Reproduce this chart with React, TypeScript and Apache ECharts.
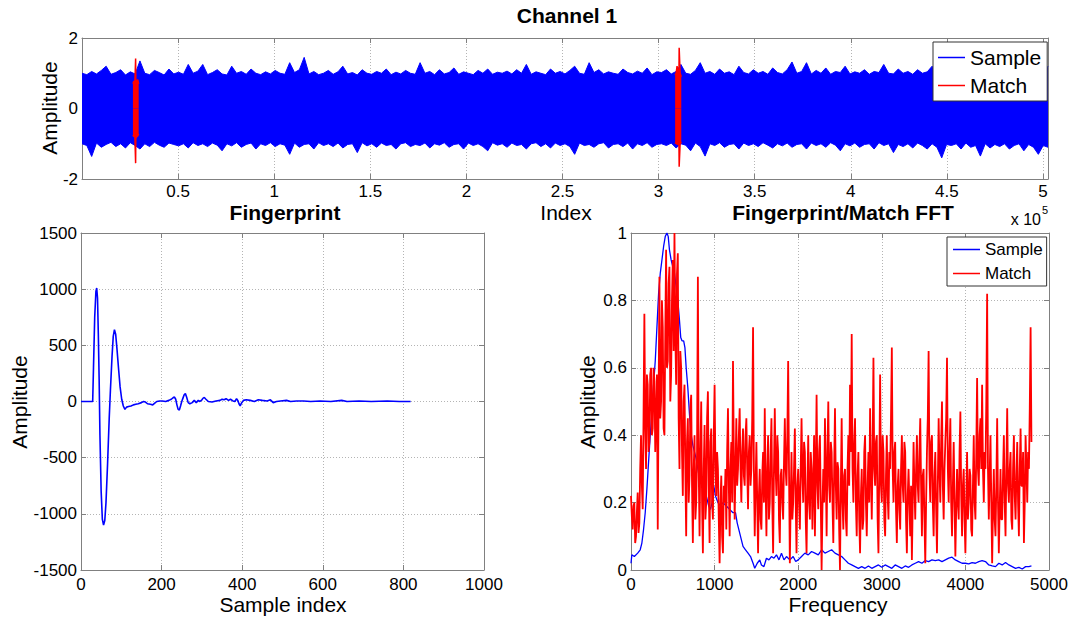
import React, { useEffect, useRef } from 'react';
import * as echarts from 'echarts';

const FONT = '"Liberation Sans", Arial, Helvetica, sans-serif';
const BLUE = '#0000ff';
const RED = '#ff0000';
const AXIS_GRAY = '#808080';
const GRID_GRAY = '#b4b4b4';

// ---------- Top panel: Channel 1 (signal envelope, read at 201 evenly spaced positions) ----------
const TOP_MAX = 502600;
const sampleUpper = [
  1.0, 0.96, 1.05, 0.98, 1.08, 1.2, 0.97, 1.02, 1.1, 0.95,
  1.04, 0.98, 1.35, 1.0, 0.96, 1.08, 1.02, 0.95, 1.12, 0.98,
  1.03, 0.97, 1.25, 1.0, 1.06, 1.25, 0.96, 1.02, 1.1, 0.98,
  0.95, 1.2, 1.0, 1.05, 0.97, 1.12, 1.0, 0.96, 1.04, 0.98,
  1.08, 1.0, 0.97, 1.3, 1.02, 1.1, 1.45, 0.98, 1.05, 0.96,
  1.0, 1.08, 0.97, 1.04, 1.2, 0.98, 1.02, 0.95, 1.1, 1.0,
  0.97, 1.05, 1.0, 1.12, 0.96, 1.03, 0.98, 1.08, 1.0, 0.97,
  1.3, 1.0, 1.05, 0.96, 1.1, 0.98, 1.02, 1.15, 0.97, 1.04,
  1.0, 0.96, 1.08, 1.0, 1.12, 0.97, 1.03, 1.0, 1.06, 0.98,
  1.1, 1.0, 1.25, 0.97, 1.04, 1.0, 0.96, 1.12, 1.0, 1.05,
  0.98, 1.08, 1.2, 1.0, 0.97, 1.3, 1.02, 1.1, 0.98, 1.04,
  1.0, 0.97, 1.12, 1.02, 0.98, 1.06, 1.0, 1.15, 0.96, 1.04,
  1.02, 1.1, 0.98, 1.05, 1.25, 1.0, 0.97, 1.08, 1.3, 1.0,
  1.05, 0.97, 1.12, 1.0, 1.04, 0.96, 1.2, 1.02, 0.98, 1.1,
  1.0, 1.05, 0.97, 1.15, 1.02, 0.98, 1.1, 1.32, 1.0, 1.05,
  1.3, 0.98, 1.08, 1.0, 1.15, 0.97, 1.05, 1.02, 1.2, 0.98,
  1.04, 1.0, 1.1, 0.97, 1.05, 1.02, 1.25, 1.0, 0.98, 1.12,
  1.0, 1.05, 0.97, 1.1, 1.0, 1.04, 1.2, 0.98, 1.06, 1.0,
  0.97, 1.08, 1.02, 1.0, 1.12, 0.98, 1.05, 1.0, 1.1, 0.97,
  1.04, 1.0, 1.15, 0.98, 1.05, 1.02, 1.1, 1.0, 1.2, 0.98,
  1.2,
];
const sampleLower = [
  -1.0, -1.05, -1.36, -0.98, -1.1, -1.02, -0.96, -1.08, -1.0, -1.12,
  -0.97, -1.05, -1.15, -1.0, -1.08, -0.96, -1.04, -1.1, -0.98, -1.02,
  -1.06, -1.0, -1.12, -0.97, -1.05, -1.0, -1.08, -0.98, -1.04, -1.2,
  -1.0, -1.06, -0.97, -1.1, -1.02, -0.98, -1.15, -1.0, -1.05, -0.97,
  -1.08, -1.0, -1.04, -1.3, -0.98, -1.1, -1.02, -1.0, -1.15, -0.97,
  -1.05, -1.0, -1.08, -0.98, -1.12, -1.02, -1.0, -1.25, -0.97, -1.06,
  -1.0, -1.1, -0.98, -1.05, -1.02, -1.15, -1.0, -0.97, -1.08, -1.02,
  -1.05, -0.98, -1.12, -1.0, -1.04, -0.97, -1.1, -1.02, -1.0, -1.15,
  -0.98, -1.05, -1.0, -1.08, -1.2, -0.97, -1.04, -1.0, -1.1, -0.98,
  -1.05, -1.02, -1.15, -1.0, -0.97, -1.08, -1.0, -1.12, -0.98, -1.05,
  -1.0, -1.08, -1.3, -0.98, -1.05, -1.02, -1.1, -1.0, -0.97, -1.12,
  -1.02, -1.0, -1.08, -0.98, -1.15, -1.0, -1.05, -0.97, -1.1, -1.02,
  -1.0, -1.05, -0.98, -1.12, -1.0, -1.04, -1.2, -0.98, -1.08, -1.35,
  -1.0, -1.05, -0.97, -1.1, -1.02, -1.0, -1.15, -0.98, -1.05, -1.0,
  -1.08, -0.97, -1.04, -1.12, -1.0, -1.06, -0.98, -1.1, -1.02, -1.0,
  -1.15, -0.98, -1.05, -1.0, -1.1, -0.97, -1.04, -1.2, -1.0, -1.06,
  -0.98, -1.1, -1.02, -1.0, -1.15, -0.97, -1.05, -1.0, -1.25, -1.02,
  -1.08, -1.0, -1.12, -0.98, -1.05, -1.15, -1.0, -1.1, -1.4, -1.02,
  -1.05, -1.0, -1.15, -0.98, -1.1, -1.05, -1.35, -1.0, -1.12, -1.02,
  -1.08, -1.0, -1.15, -1.05, -1.0, -1.2, -1.02, -1.1, -1.3, -1.05,
  -1.1,
];
const match1X = [26500, 27000, 27500, 27900, 28000, 28500, 29000, 29500];
const match1Up = [0.7, 0.78, 0.72, 1.42, 0.8, 0.75, 0.82, 0.7];
const match1Lo = [-0.75, -0.8, -0.78, -1.55, -0.85, -0.8, -0.78, -0.72];
const match2X = [308600, 309100, 309600, 310100, 310600, 310700, 311200, 311800];
const match2Up = [0.95, 1.0, 1.2, 0.98, 1.05, 1.72, 1.0, 0.9];
const match2Lo = [-1.0, -0.95, -1.02, -0.98, -1.05, -1.65, -1.0, -0.95];

// ---------- Bottom-left: Fingerprint ----------
const fpIndex = [
  0, 29, 31, 34, 37, 39, 41, 43, 45, 47, 50, 53, 56, 59, 62, 66, 70, 73, 77, 80,
  83, 86, 89, 93, 97, 101, 105, 109, 113, 118, 124, 130, 136, 142, 150, 155, 160, 165, 172, 178,
  183, 188, 195, 202, 210, 218, 224, 229, 232, 235, 238, 241, 244, 247, 250, 253, 256, 259, 262, 266,
  270, 276, 281, 286, 291, 295, 300, 303, 306, 310, 316, 325, 335, 345, 350, 355, 360, 366, 371, 377,
  382, 386, 389, 392, 395, 398, 403, 410, 420, 430, 440, 450, 462, 470, 477, 485, 495, 510, 520, 535,
  552, 570, 593, 620, 647, 660, 690, 720, 760, 790, 818,
];
const fpAmp = [
  0, 0, 300, 750, 980, 1010, 920, 600, 200, -300, -800, -1050, -1100, -1060, -900, -550, -150, 100, 400, 580,
  640, 600, 480, 300, 130, 20, -40, -70, -50, -45, -40, -30, -25, -20, -10, 0, -5, -20, -25, -30,
  -15, 0, 5, 5, 0, 10, 20, 35, 40, 20, -30, -70, -75, -40, 0, 30, 60, 70, 40, -10,
  -20, -10, 10, -10, 10, 0, 15, 30, 35, 20, 0, -5, 5, 10, 20, 15, 25, 10, 20, 5,
  0, 25, 10, -20, -40, -15, 10, 15, 10, 0, 15, 10, 5, 15, -10, 0, 5, 10, 0, 5,
  5, 0, 5, 0, 10, 0, 5, 0, 5, 0, 0,
];

// ---------- Bottom-right: Fingerprint/Match FFT ----------
const sampleFreq = [
  0, 10, 40, 80, 110, 130, 150, 170, 190, 210, 230, 250, 270, 290, 310, 330, 350, 370, 390, 410,
  430, 445, 460, 480, 500, 520, 540, 560, 580, 595, 610, 630, 645, 660, 680, 700, 720, 740, 760, 780,
  800, 820, 850, 880, 900, 930, 950, 970, 990, 1010, 1040, 1070, 1100, 1140, 1180, 1220, 1250, 1270, 1290, 1310,
  1340, 1370, 1400, 1430, 1460, 1480, 1510, 1540, 1560, 1590, 1620, 1650, 1680, 1710, 1740, 1770, 1800, 1830, 1860, 1900,
  1940, 1970, 2000, 2040, 2080, 2120, 2160, 2200, 2240, 2280, 2320, 2360, 2400, 2440, 2480, 2520, 2560, 2600, 2640, 2680,
  2720, 2760, 2800, 2840, 2880, 2920, 2960, 3000, 3040, 3080, 3120, 3160, 3200, 3240, 3280, 3320, 3360, 3400, 3440, 3480,
  3520, 3560, 3600, 3640, 3680, 3720, 3760, 3800, 3840, 3880, 3920, 3960, 4000, 4040, 4080, 4120, 4160, 4200, 4240, 4280,
  4320, 4360, 4400, 4440, 4480, 4520, 4560, 4600, 4640, 4680, 4720, 4760, 4790,
];
const sampleSpec = [
  0.02, 0.045, 0.04, 0.05, 0.06, 0.08, 0.12, 0.17, 0.24, 0.32, 0.4, 0.47, 0.55, 0.62, 0.72, 0.82, 0.88, 0.92, 0.96, 0.99,
  1.0, 0.99, 0.95, 0.92, 0.9, 0.88, 0.84, 0.8, 0.74, 0.69, 0.68, 0.68, 0.66, 0.6, 0.54, 0.46, 0.4, 0.37, 0.35, 0.33,
  0.3, 0.27, 0.25, 0.24, 0.22, 0.19, 0.18, 0.2, 0.25, 0.22, 0.2, 0.19, 0.2, 0.19, 0.18, 0.17, 0.17, 0.14, 0.12, 0.1,
  0.07, 0.06, 0.05, 0.04, 0.02, 0.005, 0.02, 0.03, 0.015, 0.01, 0.035, 0.03, 0.04, 0.035, 0.045, 0.03, 0.05, 0.03, 0.04, 0.03,
  0.04, 0.025, 0.03, 0.04, 0.05, 0.045, 0.055, 0.05, 0.045, 0.06, 0.05, 0.055, 0.06, 0.05, 0.045, 0.04, 0.03, 0.02, 0.015, 0.01,
  0.005, 0.01, 0.005, 0.012, 0.005, 0.01, 0.015, 0.008, 0.015, 0.01, 0.005, 0.015, 0.01, 0.005, 0.012, 0.008, 0.015, 0.02, 0.025, 0.02,
  0.028, 0.025, 0.03, 0.028, 0.03, 0.025, 0.03, 0.035, 0.038, 0.03, 0.025, 0.02, 0.02, 0.018, 0.022, 0.02, 0.025, 0.028, 0.025, 0.015,
  0.012, 0.01, 0.02, 0.015, 0.022, 0.015, 0.01, 0.005, 0.008, 0.003, 0.01, 0.01, 0.012,
];
const MATCH_FREQ_STEP = 10;
const matchSpec = [
  0.22, 0.16, 0.12, 0.19, 0.2, 0.08, 0.1, 0.17, 0.23, 0.11, 0.14, 0.3, 0.4, 0.25, 0.18, 0.46, 0.76, 0.42, 0.3, 0.58,
  0.55, 0.35, 0.38, 0.58, 0.6, 0.4, 0.42, 0.6, 0.56, 0.35, 0.46, 0.58, 0.12, 0.5, 0.87, 0.45, 0.5, 0.8, 0.72, 0.42,
  0.4, 0.7, 0.95, 0.6, 0.62, 0.85, 0.9, 0.5, 0.58, 0.8, 0.92, 0.65, 1.0, 0.7, 0.55, 0.88, 0.94, 0.45, 0.3, 0.65,
  0.6, 0.35, 0.22, 0.5, 0.55, 0.3, 0.1, 0.38, 0.45, 0.2, 0.28, 0.48, 0.52, 0.25, 0.08, 0.3, 0.4, 0.15, 0.2, 0.35,
  0.87, 0.3, 0.1, 0.35, 0.5, 0.2, 0.05, 0.3, 0.43, 0.15, 0.2, 0.45, 0.53, 0.25, 0.08, 0.38, 0.42, 0.2, 0.15, 0.4,
  0.55, 0.3, 0.22, 0.35, 0.3, 0.15, 0.02, 0.2, 0.28, 0.1, 0.05, 0.25, 0.2, 0.3, 0.12, 0.35, 0.48, 0.25, 0.1, 0.3,
  0.38, 0.2, 0.62, 0.35, 0.15, 0.3, 0.45, 0.25, 0.3, 0.4, 0.48, 0.3, 0.2, 0.35, 0.42, 0.28, 0.25, 0.4, 0.45, 0.3,
  0.18, 0.35, 0.4, 0.25, 0.3, 0.45, 0.72, 0.3, 0.1, 0.25, 0.38, 0.2, 0.05, 0.22, 0.3, 0.15, 0.12, 0.28, 0.35, 0.2,
  0.48, 0.25, 0.1, 0.3, 0.4, 0.15, 0.2, 0.35, 0.45, 0.2, 0.05, 0.3, 0.48, 0.3, 0.22, 0.4, 0.35, 0.15, 0.08, 0.28,
  0.3, 0.2, 0.15, 0.32, 0.45, 0.3, 0.25, 0.4, 0.62, 0.3, 0.02, 0.2, 0.35, 0.15, 0.2, 0.3, 0.42, 0.2, 0.05, 0.25,
  0.3, 0.2, 0.12, 0.3, 0.45, 0.28, 0.2, 0.38, 0.35, 0.15, 0.05, 0.25, 0.4, 0.2, 0.15, 0.35, 0.3, 0.12, 0.25, 0.4,
  0.1, 0.3, 0.52, 0.25, 0.18, 0.35, 0.4, 0.2, 0.0, 0.18, 0.3, 0.2, 0.45, 0.3, 0.1, 0.35, 0.5, 0.25, 0.2, 0.38,
  0.35, 0.2, 0.08, 0.3, 0.48, 0.25, 0.15, 0.32, 0.3, 0.12, 0.0, 0.25, 0.45, 0.2, 0.12, 0.28, 0.3, 0.15, 0.1, 0.3,
  0.4, 0.25, 0.55, 0.35, 0.7, 0.3, 0.2, 0.38, 0.45, 0.2, 0.1, 0.28, 0.35, 0.15, 0.05, 0.22, 0.3, 0.12, 0.15, 0.35,
  0.4, 0.2, 0.1, 0.25, 0.35, 0.2, 0.48, 0.3, 0.15, 0.35, 0.63, 0.3, 0.25, 0.38, 0.4, 0.15, 0.05, 0.3, 0.58, 0.25,
  0.2, 0.4, 0.35, 0.15, 0.1, 0.28, 0.4, 0.22, 0.15, 0.35, 0.3, 0.45, 0.66, 0.3, 0.2, 0.35, 0.38, 0.18, 0.08, 0.25,
  0.3, 0.18, 0.12, 0.3, 0.4, 0.25, 0.2, 0.38, 0.35, 0.15, 0.05, 0.22, 0.3, 0.2, 0.1, 0.25, 0.03, 0.2, 0.38, 0.25,
  0.15, 0.3, 0.4, 0.25, 0.2, 0.35, 0.45, 0.25, 0.1, 0.28, 0.3, 0.15, 0.02, 0.2, 0.35, 0.45, 0.65, 0.3, 0.2, 0.38,
  0.4, 0.2, 0.1, 0.28, 0.35, 0.18, 0.05, 0.25, 0.45, 0.3, 0.2, 0.38, 0.5, 0.25, 0.15, 0.3, 0.38, 0.45, 0.63, 0.3,
  0.2, 0.35, 0.45, 0.2, 0.1, 0.25, 0.38, 0.2, 0.04, 0.18, 0.3, 0.2, 0.15, 0.35, 0.47, 0.22, 0.1, 0.25, 0.3, 0.15,
  0.05, 0.2, 0.35, 0.15, 0.2, 0.3, 0.28, 0.12, 0.1, 0.25, 0.4, 0.2, 0.15, 0.35, 0.57, 0.3, 0.25, 0.4, 0.45, 0.3,
  0.55, 0.3, 0.2, 0.35, 0.3, 0.5, 0.82, 0.3, 0.15, 0.28, 0.4, 0.2, 0.02, 0.18, 0.3, 0.15, 0.1, 0.25, 0.45, 0.2,
  0.05, 0.18, 0.3, 0.15, 0.15, 0.28, 0.4, 0.2, 0.1, 0.3, 0.48, 0.25, 0.2, 0.3, 0.35, 0.15, 0.12, 0.3, 0.4, 0.22,
  0.15, 0.28, 0.38, 0.2, 0.1, 0.3, 0.42, 0.25, 0.25, 0.35, 0.08, 0.2, 0.4, 0.3, 0.2, 0.35, 0.3, 0.48, 0.72, 0.38,
];

// ---------- helpers ----------
const zip = (xs: number[], ys: number[]) => xs.map((x, i) => [x, ys[i]]);
const numFmt = (v: number) => String(Math.round(v * 1000) / 1000);

function mainX(grid: number, min: number, max: number, interval: number, margin: number, formatter: any) {
  return {
    type: 'value', gridIndex: grid, min, max, interval, position: 'bottom',
    axisLine: { show: true, onZero: false, lineStyle: { color: AXIS_GRAY, width: 1 } },
    axisTick: { show: true, inside: true, length: 5, lineStyle: { color: AXIS_GRAY } },
    axisLabel: { show: true, color: '#000', fontFamily: FONT, fontSize: 17, margin, formatter },
    splitLine: { show: true, lineStyle: { color: GRID_GRAY, type: [1, 2], width: 1 } },
  };
}
function dummyX(grid: number, min: number, max: number, interval: number) {
  return {
    type: 'value', gridIndex: grid, min, max, interval, position: 'top',
    axisLine: { show: true, onZero: false, lineStyle: { color: AXIS_GRAY, width: 1 } },
    axisTick: { show: true, inside: true, length: 5, lineStyle: { color: AXIS_GRAY } },
    axisLabel: { show: false }, splitLine: { show: false },
  };
}
function mainY(grid: number, min: number, max: number, interval: number) {
  return {
    type: 'value', gridIndex: grid, min, max, interval, position: 'left',
    axisLine: { show: true, onZero: false, lineStyle: { color: AXIS_GRAY, width: 1 } },
    axisTick: { show: true, inside: true, length: 5, lineStyle: { color: AXIS_GRAY } },
    axisLabel: { show: true, color: '#000', fontFamily: FONT, fontSize: 17, margin: 4, formatter: numFmt },
    splitLine: { show: true, lineStyle: { color: GRID_GRAY, type: [1, 2], width: 1 } },
  };
}
function dummyY(grid: number, min: number, max: number, interval: number) {
  return {
    type: 'value', gridIndex: grid, min, max, interval, position: 'right',
    axisLine: { show: true, onZero: false, lineStyle: { color: AXIS_GRAY, width: 1 } },
    axisTick: { show: true, inside: true, length: 5, lineStyle: { color: AXIS_GRAY } },
    axisLabel: { show: false }, splitLine: { show: false },
  };
}
function txt(text: string, x: number, y: number, size: number, bold = false, rotate = 0, align = 'center') {
  return {
    type: 'text', x, y, rotation: rotate, silent: true, z: 10,
    style: {
      text, fill: '#000', fontFamily: FONT, fontSize: size, fontWeight: bold ? 'bold' : 'normal',
      textAlign: align, textVerticalAlign: 'middle',
    },
  };
}

const topFormatter = (v: number) => {
  if (v <= 0 || v >= TOP_MAX) return '';
  return String(Math.round((v / 1e5) * 10) / 10);
};

const topStep = TOP_MAX / (sampleUpper.length - 1);
const topX = sampleUpper.map((_, i) => Math.round(i * topStep));
const matchFreq = matchSpec.map((_, i) => i * MATCH_FREQ_STEP);

// a filled envelope half, drawn from the value down/up to the zero line
function half(name: string, color: string, xs: number[], ys: number[], width: number, z: number, seam: boolean) {
  const s: any = {
    name, type: 'line', xAxisIndex: 0, yAxisIndex: 0, data: zip(xs, ys), symbol: 'none', silent: true, z,
    lineStyle: { color, width }, itemStyle: { color },
    areaStyle: { color, opacity: 1 },
  };
  if (seam) {
    // covers the anti-aliasing seam where the two filled halves meet at zero
    s.markLine = {
      silent: true, symbol: 'none', label: { show: false }, z: 2,
      lineStyle: { color, width: 2, type: 'solid' },
      data: [{ yAxis: 0 }],
    };
  }
  return s;
}

const option: any = {
  animation: false,
  backgroundColor: '#fff',
  grid: [
    { left: 82, top: 38, width: 966, height: 141, containLabel: false },
    { left: 81, top: 233, width: 403, height: 337, containLabel: false },
    { left: 631, top: 233, width: 418, height: 337, containLabel: false },
  ],
  xAxis: [
    mainX(0, 0, TOP_MAX, 50000, 4, topFormatter),
    dummyX(0, 0, TOP_MAX, 50000),
    mainX(1, 0, 1000, 200, 6, numFmt),
    dummyX(1, 0, 1000, 200),
    mainX(2, 0, 5000, 1000, 6, numFmt),
    dummyX(2, 0, 5000, 1000),
  ],
  yAxis: [
    mainY(0, -2, 2, 2),
    dummyY(0, -2, 2, 2),
    mainY(1, -1500, 1500, 500),
    dummyY(1, -1500, 1500, 500),
    mainY(2, 0, 1, 0.2),
    dummyY(2, 0, 1, 0.2),
  ],
  legend: [
    {
      left: 933, top: 42, orient: 'vertical', selectedMode: false, z: 8,
      backgroundColor: '#fff', borderColor: '#333', borderWidth: 1,
      padding: [5, 6, 5, 5], itemGap: 7, itemWidth: 27, itemHeight: 1.5, itemTextGap: 3,
      icon: 'rect',
      textStyle: { color: '#000', fontFamily: FONT, fontSize: 21 },
      data: [
        { name: 'Sample', itemStyle: { color: BLUE } },
        { name: 'Match', itemStyle: { color: RED } },
      ],
    },
    {
      left: 947, top: 237, orient: 'vertical', selectedMode: false, z: 8,
      backgroundColor: '#fff', borderColor: '#333', borderWidth: 1,
      padding: [4, 4, 4, 6], itemGap: 7, itemWidth: 27, itemHeight: 1.5, itemTextGap: 2,
      icon: 'rect',
      textStyle: { color: '#000', fontFamily: FONT, fontSize: 17 },
      data: [
        { name: 'Sample', itemStyle: { color: BLUE } },
        { name: 'Match', itemStyle: { color: RED } },
      ],
    },
  ],
  series: [
    half('Sample', BLUE, topX, sampleUpper, 1, 2, true),
    half('Sample', BLUE, topX, sampleLower, 1, 2, false),
    half('Match', RED, match1X, match1Up, 1.5, 4, false),
    half('Match', RED, match1X, match1Lo, 1.5, 4, false),
    half('Match', RED, match2X, match2Up, 1.5, 4, false),
    half('Match', RED, match2X, match2Lo, 1.5, 4, false),
    {
      name: 'Fingerprint', type: 'line', xAxisIndex: 2, yAxisIndex: 2, symbol: 'none', silent: true,
      data: zip(fpIndex, fpAmp), lineStyle: { color: BLUE, width: 1.6 },
    },
    {
      name: 'Sample', type: 'line', xAxisIndex: 4, yAxisIndex: 4, symbol: 'none', silent: true,
      data: zip(sampleFreq, sampleSpec), lineStyle: { color: BLUE, width: 1.3 }, itemStyle: { color: BLUE },
    },
    {
      name: 'Match', type: 'line', xAxisIndex: 4, yAxisIndex: 4, symbol: 'none', silent: true,
      data: zip(matchFreq, matchSpec), lineStyle: { color: RED, width: 1.8 }, itemStyle: { color: RED },
    },
  ],
  graphic: [
    txt('Channel 1', 567, 15, 21, true),
    txt('Index', 566, 212, 21),
    txt('Amplitude', 49, 108, 21, false, Math.PI / 2),
    txt('x 10', 1041, 219, 16, false, 0, 'right'),
    txt('5', 1042, 210, 11, false, 0, 'left'),
    txt('Fingerprint', 285, 212, 21, true),
    txt('Sample index', 283, 604, 21),
    txt('Amplitude', 19, 402, 21, false, Math.PI / 2),
    txt('Fingerprint/Match FFT', 843, 212, 21, true),
    txt('Frequency', 838, 604, 21),
    txt('Amplitude', 587, 402, 21, false, Math.PI / 2),
  ],
};

export default function App() {
  const ref = useRef<HTMLDivElement>(null);
  useEffect(() => {
    const chart = echarts.init(ref.current!, undefined, { renderer: 'svg' });
    chart.setOption(option);
    return () => chart.dispose();
  }, []);
  return (
    <div
      ref={ref}
      style={{ position: 'fixed', left: 0, top: 0, width: 1072, height: 619, background: '#fff' }}
    />
  );
}
